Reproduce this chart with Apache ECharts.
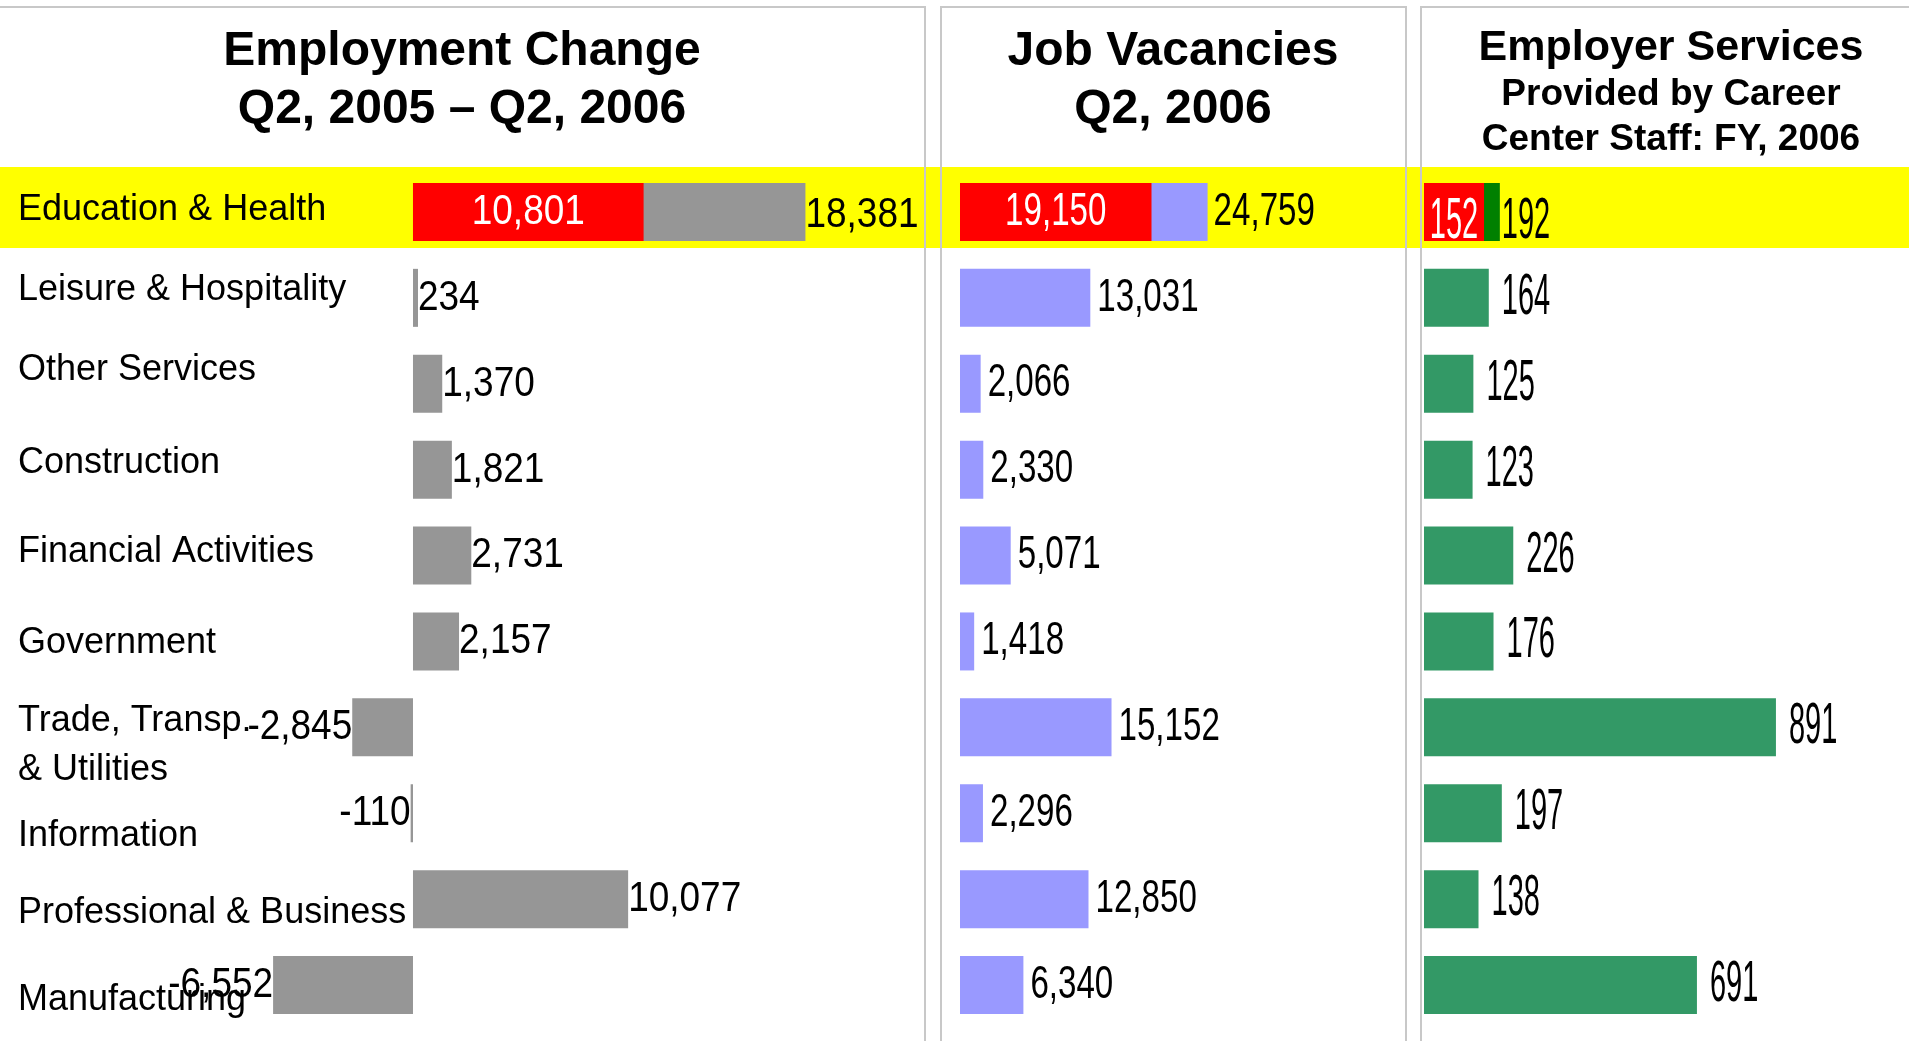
<!DOCTYPE html>
<html>
<head>
<meta charset="utf-8">
<title>Employment Change, Job Vacancies, Employer Services</title>
<script src="https://cdn.jsdelivr.net/npm/echarts@6/dist/echarts.min.js"></script>
<style>
  html, body { margin: 0; padding: 0; background: #fff; }
  #chart { width: 1909px; height: 1041px; }
</style>
</head>
<body>
<div id="chart"></div>
<script>
// industries, top to bottom
const categories = [
  'Education & Health',
  'Leisure & Hospitality',
  'Other Services',
  'Construction',
  'Financial Activities',
  'Government',
  'Trade, Transp.\n& Utilities',
  'Information',
  'Professional & Business',
  'Manufacturing'
];

// Employment change Q2 2005 - Q2 2006
const employmentChange = [18381, 234, 1370, 1821, 2731, 2157, -2845, -110, 10077, -6552];
const employmentPart = [10801, null, null, null, null, null, null, null, null, null];

// Job vacancies Q2 2006
const jobVacancies = [24759, 13031, 2066, 2330, 5071, 1418, 15152, 2296, 12850, 6340];
const vacanciesPart = [19150, null, null, null, null, null, null, null, null, null];

// Employer services provided by career center staff, FY 2006
const employerServices = [192, 164, 125, 123, 226, 176, 891, 197, 138, 691];
const servicesPart = [152, null, null, null, null, null, null, null, null, null];

// the category labels sit a little off the bar centres in the original
const labelShift = [-2, -8, -14, -7, -3, 2, 18, 23, 14, 15];

const SANS = '"Liberation Sans", Arial, sans-serif';
const fmt = v => Number(v).toLocaleString('en-US');

const chart = echarts.init(document.getElementById('chart'), null, {renderer: 'canvas'});

// rich styles for the shifted category labels (spacer lines push the text up or down)
const rich = {
  t: {fontFamily: SANS, fontSize: 36, color: '#000', lineHeight: 49, align: 'left'}
};
labelShift.forEach((s, i) => {
  rich['sp' + i] = {fontSize: 1, lineHeight: Math.max(1, 2 * Math.abs(s)), align: 'left'};
});

function categoryLabel(value, index) {
  const s = labelShift[index];
  const body = value.split('\n').map(l => '{t|' + l + '}').join('\n');
  if (s > 0) return '{sp' + index + '| }\n' + body;
  if (s < 0) return body + '\n{sp' + index + '| }';
  return body;
}

// numbers in the original are a tall, narrow face: draw them as scaled text
function valueLabels(gridIdx, values, o) {
  return {
    type: 'custom', xAxisIndex: gridIdx, yAxisIndex: gridIdx, z: 5, silent: true,
    encode: {x: 0, y: 1},
    data: values.map((v, i) => [v, i]).filter(d => d[0] !== null),
    renderItem: (params, api) => {
      const v = api.value(0);
      const i = api.value(1);
      const p = api.coord([o.inside ? v / 2 : v, i]);
      let align = 'center';
      let x = p[0];
      if (!o.inside) {
        const d = typeof o.dist === 'function' ? o.dist(i) : o.dist;
        align = v < 0 ? 'right' : 'left';
        x += v < 0 ? -d : d;
      }
      return {
        type: 'text',
        x: x,
        y: p[1] + (o.dy ? o.dy(i) : 0),
        scaleX: o.sx,
        style: {
          text: fmt(v), fill: o.color,
          font: o.size + 'px ' + SANS,
          align: align, verticalAlign: 'middle'
        }
      };
    }
  };
}

const gridCommon = {top: 169, height: 859, containLabel: false, outerBoundsMode: 'none'};

function yCat(idx, showLabels) {
  return {
    type: 'category', gridIndex: idx, data: categories, inverse: true,
    axisLine: {show: false, onZero: false}, axisTick: {show: false}, splitLine: {show: false},
    axisLabel: showLabels ? {
      show: true, align: 'left', margin: 0,
      formatter: categoryLabel,
      rich: rich
    } : {show: false}
  };
}

const titleFont = size => 'bold ' + size + 'px ' + SANS;

const option = {
  backgroundColor: '#ffffff',
  animation: false,
  grid: [
    Object.assign({left: 18, width: 822}, gridCommon),
    Object.assign({left: 960, width: 440}, gridCommon),
    Object.assign({left: 1424, width: 474}, gridCommon)
  ],
  xAxis: [
    {type: 'value', gridIndex: 0, min: -18500, max: 20000, show: false},
    {type: 'value', gridIndex: 1, min: 0, max: 44000, show: false},
    {type: 'value', gridIndex: 2, min: 0, max: 1200, show: false}
  ],
  yAxis: [yCat(0, true), yCat(1, false), yCat(2, false)],
  graphic: [
    {type: 'rect', z: -10, shape: {x: 0, y: 167, width: 1909, height: 81}, style: {fill: '#ffff00'}},
    {type: 'rect', z: 1, shape: {x: -5, y: 7, width: 930, height: 1100}, style: {fill: null, stroke: '#c8c8c8', lineWidth: 2}},
    {type: 'rect', z: 1, shape: {x: 941, y: 7, width: 465, height: 1100}, style: {fill: null, stroke: '#c8c8c8', lineWidth: 2}},
    {type: 'rect', z: 1, shape: {x: 1421, y: 7, width: 600, height: 1100}, style: {fill: null, stroke: '#c8c8c8', lineWidth: 2}},
    {type: 'text', z: 5, style: {text: 'Employment Change', x: 462, y: 52, font: titleFont(48), fill: '#000', align: 'center', verticalAlign: 'middle'}},
    {type: 'text', z: 5, style: {text: 'Q2, 2005 \u2013 Q2, 2006', x: 462, y: 110, font: titleFont(48), fill: '#000', align: 'center', verticalAlign: 'middle'}},
    {type: 'text', z: 5, style: {text: 'Job Vacancies', x: 1173, y: 52, font: titleFont(48), fill: '#000', align: 'center', verticalAlign: 'middle'}},
    {type: 'text', z: 5, style: {text: 'Q2, 2006', x: 1173, y: 110, font: titleFont(48), fill: '#000', align: 'center', verticalAlign: 'middle'}},
    {type: 'text', z: 5, style: {text: 'Employer Services', x: 1671, y: 48, font: titleFont(43), fill: '#000', align: 'center', verticalAlign: 'middle'}},
    {type: 'text', z: 5, style: {text: 'Provided by Career', x: 1671, y: 95, font: titleFont(37), fill: '#000', align: 'center', verticalAlign: 'middle'}},
    {type: 'text', z: 5, style: {text: 'Center Staff: FY, 2006', x: 1671, y: 140, font: titleFont(37), fill: '#000', align: 'center', verticalAlign: 'middle'}}
  ],
  series: [
    {
      type: 'bar', xAxisIndex: 0, yAxisIndex: 0, barWidth: 58,
      data: employmentChange, itemStyle: {color: '#969696'}
    },
    {
      type: 'bar', xAxisIndex: 0, yAxisIndex: 0, barWidth: 58, barGap: '-100%',
      data: employmentPart, itemStyle: {color: '#ff0000'}
    },
    {
      type: 'bar', xAxisIndex: 1, yAxisIndex: 1, barWidth: 58,
      data: jobVacancies, itemStyle: {color: '#9999ff'}
    },
    {
      type: 'bar', xAxisIndex: 1, yAxisIndex: 1, barWidth: 58, barGap: '-100%',
      data: vacanciesPart, itemStyle: {color: '#ff0000'}
    },
    {
      type: 'bar', xAxisIndex: 2, yAxisIndex: 2, barWidth: 58,
      data: employerServices.map((v, i) => ({value: v, itemStyle: {color: i === 0 ? '#008000' : '#339966'}}))
    },
    {
      type: 'bar', xAxisIndex: 2, yAxisIndex: 2, barWidth: 58, barGap: '-100%',
      data: servicesPart, itemStyle: {color: '#ff0000'}
    },
    valueLabels(0, employmentChange, {dist: 0, sx: 0.86, size: 43, color: '#000', dy: i => (i === 0 ? 3 : 0)}),
    valueLabels(0, employmentPart, {inside: true, sx: 0.86, size: 43, color: '#fff'}),
    valueLabels(1, jobVacancies, {dist: i => (i === 0 ? 6 : 7), sx: 0.72, size: 46, color: '#000'}),
    valueLabels(1, vacanciesPart, {inside: true, sx: 0.72, size: 46, color: '#fff'}),
    valueLabels(2, employerServices, {dist: i => (i === 0 ? 2 : 13), sx: 0.5, size: 58, color: '#000', dy: i => (i === 0 ? 10 : 0)}),
    valueLabels(2, servicesPart, {inside: true, sx: 0.5, size: 58, color: '#fff', dy: () => 10})
  ]
};

chart.setOption(option);
</script>
</body>
</html>
